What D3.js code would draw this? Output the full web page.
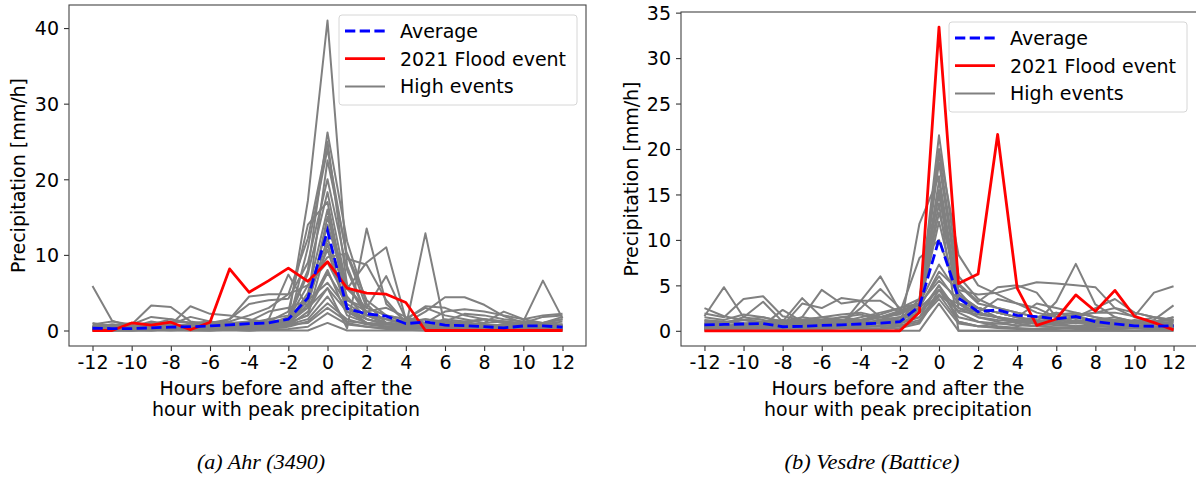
<!DOCTYPE html>
<html>
<head>
<meta charset="utf-8">
<script src="https://cdn.jsdelivr.net/npm/d3@7"></script>
<style>
  html, body { margin: 0; padding: 0; background: #fff; }
  svg { display: block; font-family: 'DejaVu Sans', sans-serif; }
  .caption { font-family: 'Liberation Serif', serif; font-style: italic; }
</style>
</head>
<body>
<svg id="chart" width="1196" height="477"></svg>
<script>
const hours = d3.range(-12, 13)
const xTicks = d3.range(-12, 13, 2)

// Ahr (3490)
const ahrFlood = [0, 0, 1.0, 0.7, 1.1, 0.1, 1.1, 8.15, 5.05, 6.6, 8.25, 6.5, 9.1, 5.6, 4.95, 4.8, 3.7, 0, 0, 0, 0, 0, 0, 0, 0]
const ahrAverage = [0.3, 0.25, 0.25, 0.35, 0.45, 0.5, 0.6, 0.75, 0.9, 1.0, 1.5, 4.3, 13.2, 2.9, 2.2, 1.9, 0.9, 1.15, 0.7, 0.65, 0.5, 0.35, 0.6, 0.6, 0.45]
const ahrHigh = [
  [0.2, 0.1, 0.3, 0.2, 0.4, 0.3, 0.5, 0.8, 1.2, 1.0, 1.5, 17.2, 41.0, 8.5, 2.0, 1.0, 0.5, 0.3, 0.2, 0.4, 0.3, 0.2, 0.5, 0.3, 0.4],
  [0.1, 0, 0, 0.2, 0.1, 0.3, 0.2, 0.5, 0.6, 0.9, 1.8, 8.0, 26.2, 11.8, 3.5, 1.0, 0.6, 0.8, 0.5, 0.4, 0.6, 0.3, 0.5, 0.8, 0.6],
  [0.3, 0.2, 0.5, 0.4, 0.3, 0.6, 0.8, 1.2, 2.0, 3.0, 4.8, 12.2, 25.0, 6.0, 2.5, 1.5, 1.0, 0.8, 1.2, 1.0, 0.8, 0.6, 0.5, 0.4, 0.3],
  [0.5, 0.3, 0.2, 0.1, 0.3, 0.2, 0.4, 0.3, 0.5, 0.6, 0.8, 11.0, 24.0, 9.5, 8.7, 4.0, 1.0, 0.8, 1.5, 1.2, 0.6, 0.8, 0.6, 0.5, 0.8],
  [0, 0, 0.1, 0, 0.2, 0.1, 0, 0.2, 0.3, 0.4, 1.0, 4.0, 22.5, 10.0, 3.0, 2.0, 1.5, 0.5, 0.3, 0.2, 0.1, 0.3, 0.2, 0.4, 0.2],
  [1.0, 0.5, 0.3, 0.8, 1.5, 1.0, 0.6, 1.5, 3.5, 4.0, 4.2, 9.0, 20.0, 8.0, 2.0, 1.0, 0.8, 0.5, 0.6, 1.0, 1.5, 1.2, 0.8, 1.0, 1.5],
  [0.2, 0.4, 0.3, 0.6, 0.2, 0.5, 0.3, 0.8, 0.5, 1.5, 2.0, 3.0, 5.6, 0.3, 13.5, 3.5, 1.2, 0.5, 0.8, 0.3, 0.5, 0.2, 0.4, 0.5, 0.6],
  [0.3, 0.2, 0.5, 1.2, 0.8, 0.5, 1.0, 0.6, 1.2, 0.8, 1.5, 7.5, 18.3, 5.5, 9.0, 11.0, 1.5, 0.8, 0.5, 0.4, 0.6, 0.8, 1.0, 0.6, 0.5],
  [0.5, 0.8, 0.6, 0.3, 0.5, 0.8, 0.6, 1.0, 0.8, 1.2, 2.5, 14.0, 17.0, 4.0, 3.0, 7.2, 1.5, 1.0, 0.6, 0.8, 0.5, 0.3, 0.6, 0.5, 0.4],
  [0.1, 0.3, 0.2, 0.1, 0.3, 0.5, 0.4, 0.2, 0.6, 0.8, 1.2, 5.0, 16.0, 3.0, 1.0, 0.5, 0.5, 12.85, 0.5, 0.3, 0.4, 0.6, 0.3, 0.2, 0.1],
  [0.8, 1.2, 0.8, 1.8, 1.5, 1.0, 1.2, 0.8, 0.6, 1.5, 7.4, 3.0, 15.0, 6.0, 2.0, 1.5, 1.0, 1.5, 1.2, 0.8, 1.0, 1.2, 0.8, 1.0, 1.5],
  [0.5, 0.3, 0.5, 0.8, 0.6, 0.4, 0.5, 0.6, 1.0, 0.8, 1.5, 4.0, 14.0, 5.5, 3.0, 2.0, 1.0, 2.5, 4.4, 4.4, 3.4, 1.9, 1.0, 1.8, 2.0],
  [0.2, 0.1, 0.3, 0.5, 0.3, 0.2, 0.8, 0.5, 0.3, 0.6, 0.8, 3.5, 12.2, 4.5, 1.5, 0.8, 1.0, 0.8, 0.5, 0.6, 0.8, 0.6, 1.2, 6.6, 1.6],
  [5.9, 1.3, 0.5, 0.3, 0.5, 0.8, 0.6, 0.4, 0.5, 0.8, 1.0, 2.0, 11.5, 3.0, 1.5, 1.0, 0.6, 0.5, 0.8, 0.6, 0.4, 0.5, 0.3, 0.5, 0.8],
  [0.3, 0.5, 0.8, 3.3, 3.1, 1.2, 0.8, 0.6, 1.0, 0.8, 1.2, 4.5, 10.7, 2.5, 1.0, 0.8, 1.2, 1.5, 1.0, 0.8, 0.6, 0.5, 0.8, 1.0, 0.6],
  [0.4, 0.2, 0.3, 0.5, 0.8, 3.2, 2.2, 2.0, 1.5, 1.0, 1.5, 6.0, 9.7, 10.2, 4.0, 2.0, 1.5, 3.2, 3.0, 2.0, 1.5, 1.0, 0.8, 0.6, 0.5],
  [0.6, 0.4, 0.3, 0.2, 0.5, 0.8, 1.0, 1.5, 4.5, 4.8, 4.8, 6.0, 9.0, 4.0, 2.5, 3.0, 1.8, 1.0, 2.5, 2.8, 2.5, 2.0, 1.5, 2.0, 2.2],
  [0.2, 0.5, 0.4, 0.6, 0.3, 0.2, 0.5, 0.8, 0.6, 0.5, 1.0, 3.0, 8.0, 2.0, 1.0, 0.5, 0.3, 0.5, 0.8, 1.0, 0.6, 0.4, 0.5, 0.3, 0.4],
  [0.1, 0.2, 0.1, 0.3, 0.2, 0.1, 0.4, 0.3, 0.2, 0.3, 0.6, 2.5, 7.6, 3.5, 2.0, 1.0, 1.5, 3.0, 2.0, 1.5, 1.0, 2.5, 1.5, 1.0, 0.8],
  [0.3, 0.6, 1.0, 0.8, 1.2, 1.0, 0.8, 1.0, 1.2, 2.5, 3.0, 4.0, 6.3, 3.0, 2.0, 1.5, 1.0, 0.8, 1.2, 2.2, 2.0, 1.5, 1.2, 1.0, 1.8],
  [0.5, 0.8, 0.6, 1.0, 0.8, 1.8, 1.2, 0.8, 1.0, 1.5, 1.0, 2.0, 5.6, 2.5, 1.5, 0.8, 0.6, 1.0, 0.8, 0.6, 0.5, 0.8, 1.0, 0.8, 0.6],
  [0.2, 0.1, 0.2, 0.1, 0.3, 0.2, 0.1, 0.2, 0.3, 0.5, 0.8, 1.5, 4.5, 1.0, 0.5, 0.3, 0.2, 0.3, 0.2, 0.1, 0.2, 0.3, 0.2, 0.1, 0.2],
  [0.1, 0, 0, 0.1, 0, 0.1, 0.2, 0.1, 0, 0.2, 0.5, 1.2, 3.6, 1.5, 0.8, 0.5, 0.3, 0.5, 0.8, 0.6, 0.5, 0.3, 0.2, 0.1, 0.2],
  [0.4, 0.3, 0.5, 0.3, 0.6, 0.5, 0.4, 0.6, 0.8, 1.0, 0.8, 1.0, 3.0, 1.2, 1.0, 0.8, 0.6, 0.8, 1.0, 1.2, 1.5, 1.2, 1.0, 0.8, 1.2],
  [0, 0.1, 0, 0, 0.1, 0, 0, 0.1, 0, 0.1, 0.2, 0.5, 2.3, 0.8, 0.5, 0.2, 0.1, 0, 0.2, 0.1, 0, 0.1, 0.2, 0.1, 0],
  [0, 0, 0, 0, 0, 0, 0, 0, 0, 0, 0, 0, 1.0, 0, 0, 0, 0, 0, 0, 0, 0, 0, 0, 0, 0]
]

// Vesdre (Battice)
const vesFlood = [0, 0, 0, 0, 0, 0, 0, 0, 0, 0, 0, 2.05, 33.4, 5.2, 6.25, 21.6, 4.7, 0.6, 1.3, 3.95, 2.15, 4.45, 1.6, 0.9, 0.1]
const vesAverage = [0.65, 0.7, 0.75, 0.8, 0.45, 0.5, 0.6, 0.65, 0.75, 0.85, 1.0, 2.7, 10.07, 3.6, 2.1, 2.3, 1.7, 1.57, 1.3, 1.57, 1.0, 0.77, 0.55, 0.5, 0.55]
const vesHigh = [
  [1.0, 0.8, 1.2, 0.8, 1.0, 1.5, 1.2, 1.0, 1.5, 2.0, 2.5, 3.0, 21.5, 6.0, 3.5, 2.5, 2.0, 1.5, 1.8, 2.0, 1.5, 1.2, 1.0, 1.5, 1.2],
  [0.5, 0.6, 0.4, 0.8, 0.6, 0.5, 0.8, 1.0, 1.2, 0.8, 1.5, 2.5, 20.0, 8.35, 5.0, 4.0, 3.0, 2.5, 1.5, 1.0, 0.8, 0.6, 0.5, 0.8, 0.6],
  [0.2, 0.3, 0.5, 0.4, 0.3, 0.5, 0.6, 0.4, 0.8, 1.0, 1.2, 3.5, 19.5, 5.2, 3.2, 4.8, 5.0, 4.2, 1.5, 1.0, 0.8, 1.2, 1.0, 0.8, 0.5],
  [1.5, 1.2, 1.8, 1.5, 1.0, 0.8, 1.2, 1.5, 1.8, 1.2, 2.0, 2.8, 18.5, 4.4, 2.0, 1.5, 1.0, 0.8, 1.2, 1.5, 1.0, 0.8, 1.2, 1.0, 1.5],
  [0.8, 0.5, 0.6, 0.8, 1.0, 0.8, 0.6, 0.5, 0.8, 1.0, 0, 11.8, 17.0, 3.5, 2.5, 2.0, 1.5, 1.0, 0.8, 0.5, 0.6, 0.4, 0.5, 0.3, 0.4],
  [2.5, 1.6, 1.2, 1.5, 1.0, 1.2, 1.5, 1.8, 2.0, 1.5, 2.2, 3.0, 16.5, 3.0, 1.5, 1.0, 0.5, 1.0, 0.8, 1.2, 1.0, 0.6, 0.5, 0.8, 1.0],
  [0.3, 0.2, 0.4, 0.3, 0.2, 0.5, 0.4, 0.3, 0.5, 0.6, 0.8, 2.0, 15.5, 4.0, 2.0, 1.5, 0.8, 0.5, 0.4, 0.3, 0.5, 0.4, 0.3, 0.2, 0.3],
  [1.9, 1.5, 3.5, 3.8, 1.6, 1.2, 1.0, 1.5, 1.2, 1.8, 2.5, 3.5, 15.0, 2.5, 1.5, 1.2, 1.0, 1.5, 2.0, 1.5, 1.2, 1.0, 0.8, 1.0, 1.2],
  [0.6, 0.8, 1.5, 3.2, 1.0, 0.8, 0.6, 1.0, 0.8, 1.2, 1.5, 2.2, 14.0, 0, 0, 0, 0, 0, 0, 0, 0, 0, 0, 0, 0],
  [1.1, 1.0, 0.8, 0.6, 2.3, 1.0, 0.8, 0.6, 0.8, 1.0, 1.2, 2.5, 13.0, 5.0, 3.0, 2.5, 2.0, 1.5, 1.0, 1.5, 1.2, 1.0, 0.8, 1.0, 0.6],
  [0.4, 0.5, 0.3, 0.5, 0.4, 1.5, 4.5, 3.0, 3.3, 3.3, 2.0, 2.5, 12.0, 3.0, 2.0, 1.5, 1.2, 1.0, 3.2, 7.36, 2.9, 1.5, 1.0, 0.8, 0.5],
  [0.5, 0.6, 0.5, 0.8, 1.0, 3.6, 1.5, 1.0, 1.2, 1.5, 1.8, 3.0, 7.3, 4.0, 2.5, 2.0, 1.5, 1.0, 1.2, 1.5, 2.0, 2.0, 1.6, 4.2, 4.9],
  [0.3, 0.4, 0.6, 0.5, 0.8, 0.6, 0.8, 1.0, 0.8, 1.2, 1.5, 2.5, 6.5, 4.5, 4.0, 4.2, 4.8, 5.35, 5.2, 5.0, 4.8, 2.5, 1.5, 1.0, 0.8],
  [0.2, 0.3, 0.2, 0.4, 0.3, 0.5, 0.4, 0.6, 3.3, 6.0, 2.2, 2.8, 6.0, 3.0, 2.0, 1.5, 1.0, 0.8, 0.6, 0.5, 0.8, 1.0, 0.6, 0.5, 0.4],
  [1.6, 4.8, 1.5, 1.2, 0.8, 1.0, 1.2, 0.8, 2.5, 4.6, 2.5, 3.0, 5.5, 3.5, 2.5, 2.0, 1.5, 1.2, 1.0, 1.5, 1.2, 1.0, 0.8, 1.2, 2.8],
  [0.5, 0.3, 0.5, 0.4, 0.6, 3.0, 2.5, 3.6, 3.3, 1.5, 1.2, 2.0, 5.0, 2.0, 1.0, 0.8, 0.6, 0.5, 0.8, 1.0, 0.8, 0.6, 0.5, 0.4, 0.6],
  [0.8, 1.0, 1.2, 1.0, 0.8, 1.2, 1.5, 1.2, 1.0, 0.8, 1.0, 1.5, 5.0, 1.0, 0.5, 0.8, 1.0, 1.5, 2.0, 1.5, 2.5, 3.5, 2.0, 1.5, 1.2],
  [0.2, 0.1, 0.2, 0.3, 0.2, 0.1, 0.2, 0.3, 0.2, 0.3, 0.5, 1.0, 4.5, 1.5, 1.0, 0.5, 0.3, 0.2, 0.3, 0.2, 0.1, 0.2, 0.3, 0.2, 0.1],
  [1.2, 1.0, 0.8, 1.0, 1.2, 1.0, 0.8, 1.0, 1.2, 1.5, 2.0, 2.5, 4.5, 2.5, 2.0, 3.5, 3.0, 2.0, 1.5, 1.8, 2.0, 2.5, 2.0, 1.5, 1.0],
  [0.1, 0.2, 0.1, 0, 0.1, 0.2, 0.1, 0, 0.1, 0.2, 0.3, 0.8, 4.0, 1.0, 0.5, 0.3, 0.2, 0.1, 0.2, 0.3, 0.2, 0.1, 0, 0.1, 0.2],
  [0.6, 0.5, 0.8, 0.6, 0.5, 0.8, 1.0, 0.8, 0.6, 1.0, 1.2, 2.0, 4.0, 2.2, 1.8, 1.5, 1.2, 1.0, 0.8, 1.0, 1.2, 1.5, 1.0, 0.8, 0.6],
  [0.4, 0.6, 0.4, 0.3, 0.5, 0.4, 0.3, 0.5, 0.4, 0.6, 0.8, 1.5, 3.8, 3.0, 2.5, 2.0, 1.5, 3.0, 2.5, 2.0, 1.5, 1.0, 0.8, 1.0, 1.5],
  [0.3, 0.2, 0.3, 0.2, 0.4, 0.3, 0.2, 0.3, 0.4, 0.5, 0.6, 1.2, 3.5, 0.8, 0.5, 0.4, 0.3, 0.2, 0.3, 0.4, 0.3, 0.2, 0.3, 0.2, 0.3],
  [0, 0, 0, 0, 0, 0, 0, 0, 0, 0, 0, 0, 3.0, 0, 0, 0, 0, 0, 0, 0, 0, 0, 0, 0, 0],
  [0.8, 0.6, 0.5, 0.8, 1.0, 0.8, 1.0, 1.2, 1.0, 1.5, 2.0, 8.0, 10.0, 4.0, 2.5, 1.5, 1.0, 0.8, 1.0, 0.8, 1.0, 0.8, 0.6, 0.5, 0.4]
]

const legendLabels = ['Average', '2021 Flood event', 'High events']

const panels = [
  {
    high: ahrHigh, flood: ahrFlood, average: ahrAverage,
    left: 69, right: 586, top: 5, bottom: 346,
    yMax: 41, yTicks: d3.range(0, 41, 10),
    yLabelX: 25, xLabelX: 286,
    legend: { x: 339, y: 15, w: 238, h: 90 },
    caption: '(a) Ahr (3490)', captionX: 261, captionW: 128
  },
  {
    high: vesHigh, flood: vesFlood, average: vesAverage,
    left: 681, right: 1197, top: 12, bottom: 346,
    yMax: 33.4, yTicks: d3.range(0, 36, 5),
    yLabelX: 638, xLabelX: 898,
    legend: { x: 949, y: 22, w: 238, h: 90 },
    caption: '(b) Vesdre (Battice)', captionX: 872, captionW: 175
  }
]

const svg = d3.select('#chart')

function drawPanel(p) {
  const g = svg.append('g')

  // 5% padding either side, like the default plot margins
  const xScale = d3.scaleLinear().domain([-13.2, 13.2]).range([p.left, p.right])
  const pad = p.yMax * 0.05
  const yScale = d3.scaleLinear().domain([-pad, p.yMax + pad]).range([p.bottom, p.top])

  const line = d3.line()
    .x((d, i) => xScale(hours[i]))
    .y((d) => yScale(d))

  const clipId = 'clip' + p.left
  g.append('clipPath').attr('id', clipId)
    .append('rect')
    .attr('x', p.left).attr('y', p.top)
    .attr('width', p.right - p.left).attr('height', p.bottom - p.top)

  const plot = g.append('g').attr('clip-path', `url(#${clipId})`)

  plot.selectAll('.high')
    .data(p.high)
    .enter().append('path')
    .attr('class', 'high')
    .attr('d', line)
    .attr('fill', 'none')
    .attr('stroke', '#808080')
    .attr('stroke-width', 2)
    .attr('stroke-linejoin', 'round')

  plot.append('path')
    .attr('d', line(p.flood))
    .attr('fill', 'none')
    .attr('stroke', '#ff0000')
    .attr('stroke-width', 2.8)
    .attr('stroke-linejoin', 'round')

  plot.append('path')
    .attr('d', line(p.average))
    .attr('fill', 'none')
    .attr('stroke', '#0000ff')
    .attr('stroke-width', 2.8)
    .attr('stroke-dasharray', '10.3,4.4')

  // axes, plain hyphen for negative ticks
  const fmt = (d) => String(d)
  const xAxis = g.append('g')
    .attr('transform', `translate(0,${p.bottom})`)
    .call(d3.axisBottom(xScale).tickValues(xTicks).tickFormat(fmt).tickSize(5).tickPadding(5).tickSizeOuter(0))
  const yAxis = g.append('g')
    .attr('transform', `translate(${p.left},0)`)
    .call(d3.axisLeft(yScale).tickValues(p.yTicks).tickFormat(fmt).tickSize(5).tickPadding(5).tickSizeOuter(0))

  ;[xAxis, yAxis].forEach((a) => {
    a.select('.domain').remove()
    a.selectAll('line').attr('stroke', '#333').attr('stroke-width', 1.1)
    a.selectAll('text')
      .attr('font-family', 'DejaVu Sans, sans-serif')
      .attr('font-size', '19px')
      .attr('fill', '#000')
  })
  yAxis.selectAll('text').attr('dy', '0.36em')

  // frame
  g.append('rect')
    .attr('x', p.left).attr('y', p.top)
    .attr('width', p.right - p.left).attr('height', p.bottom - p.top)
    .attr('fill', 'none')
    .attr('stroke', '#444')
    .attr('stroke-width', 1.1)

  g.append('text')
    .attr('transform', `translate(${p.yLabelX},${(p.top + p.bottom) / 2}) rotate(-90)`)
    .attr('text-anchor', 'middle')
    .attr('font-size', '19px')
    .text('Precipitation [mm/h]')

  const xLabel = g.append('text')
    .attr('text-anchor', 'middle')
    .attr('font-size', '19px')
  xLabel.append('tspan').attr('x', p.xLabelX).attr('y', 394.5).text('Hours before and after the')
  xLabel.append('tspan').attr('x', p.xLabelX).attr('y', 416).text('hour with peak precipitation')

  // legend
  const lg = g.append('g').attr('transform', `translate(${p.legend.x},${p.legend.y})`)
  lg.append('rect')
    .attr('width', p.legend.w).attr('height', p.legend.h)
    .attr('rx', 3)
    .attr('fill', '#fff').attr('fill-opacity', 0.8)
    .attr('stroke', '#d6d6d6').attr('stroke-width', 1)

  const styles = [
    { stroke: '#0000ff', width: 2.8, dash: '10.3,4.4' },
    { stroke: '#ff0000', width: 2.8, dash: null },
    { stroke: '#808080', width: 2, dash: null }
  ]
  const rows = lg.selectAll('.row')
    .data(legendLabels)
    .enter().append('g')
    .attr('class', 'row')
    .attr('transform', (d, i) => `translate(0,${16 + i * 27.7})`)
  rows.append('line')
    .attr('x1', 6).attr('x2', 46)
    .attr('stroke', (d, i) => styles[i].stroke)
    .attr('stroke-width', (d, i) => styles[i].width)
    .attr('stroke-dasharray', (d, i) => styles[i].dash)
  rows.append('text')
    .attr('x', 61).attr('y', 7)
    .attr('font-size', '19px')
    .text((d) => d)

  g.append('text')
    .attr('class', 'caption')
    .attr('x', p.captionX).attr('y', 469)
    .attr('text-anchor', 'middle')
    .attr('font-size', '21px')
    .attr('textLength', p.captionW)
    .attr('lengthAdjust', 'spacingAndGlyphs')
    .text(p.caption)
}

panels.forEach(drawPanel)
</script>
</body>
</html>
